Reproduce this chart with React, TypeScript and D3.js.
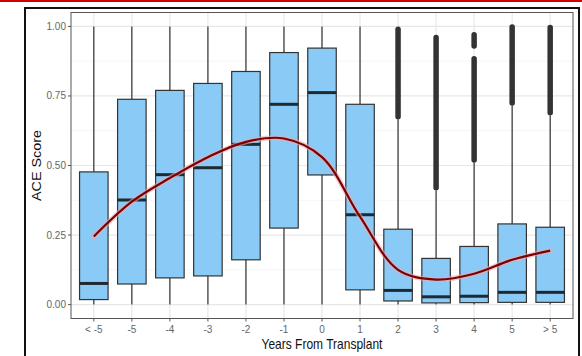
import * as d3 from "d3";

// ACE score by year relative to transplant
const categories = ["< -5", "-5", "-4", "-3", "-2", "-1", "0", "1", "2", "3", "4", "5", "> 5"];
const lowerWhisker = [0, 0, 0, 0, 0, 0, 0, 0, 0, 0, 0, 0, 0];
const q1 = [0.018, 0.074, 0.096, 0.103, 0.161, 0.275, 0.466, 0.053, 0.013, 0.006, 0.007, 0.008, 0.008];
const medians = [0.076, 0.376, 0.467, 0.492, 0.576, 0.72, 0.762, 0.323, 0.051, 0.028, 0.03, 0.044, 0.044];
const q3 = [0.477, 0.738, 0.77, 0.795, 0.838, 0.906, 0.922, 0.72, 0.271, 0.166, 0.209, 0.29, 0.278];
const upperWhisker = [1, 1, 1, 1, 1, 1, 1, 1, 0.665, 0.41, 0.51, 0.715, 0.68];
// outliers are so dense they read as runs of points: [from, to]
const outlierRuns: [number, number][][] = [
  [], [], [], [], [], [], [], [],
  [[0.675, 0.99]],
  [[0.42, 0.96]],
  [[0.52, 0.884], [0.93, 0.97]],
  [[0.725, 0.998]],
  [[0.69, 0.996]],
];
const smoothFit = [0.245, 0.37, 0.455, 0.53, 0.585, 0.597, 0.53, 0.316, 0.125, 0.09, 0.111, 0.161, 0.194];
const yTicks = [0, 0.25, 0.5, 0.75, 1];
const yMinor = [0.125, 0.375, 0.625, 0.875];

const W = 582;
const H = 356;
const panel = { left: 71, right: 573, top: 12.5, bottom: 318.5 };
const font = "'Liberation Sans', Arial, sans-serif";

export default function App() {
  const x = d3.scalePoint<string>().domain(categories).range([panel.left, panel.right]).padding(0.6);
  const y = d3.scaleLinear().domain([-0.05, 1.05]).range([panel.bottom, panel.top]);
  const boxW = x.step() * 0.75;

  const fitLine = d3
    .line<number>()
    .x((_, i) => x(categories[i]) as number)
    .y((d) => y(d))
    .curve(d3.curveCatmullRom.alpha(0.5));
  const fitPath = fitLine(smoothFit) || "";

  return (
    <svg width={W} height={H} style={{ position: "absolute", left: 0, top: 0, background: "#fff" }}>
      <rect x={0} y={0} width={W} height={2} fill="#d00000" />
      <rect x={25} y={8} width={554} height={H + 10} fill="#fff" stroke="#111" strokeWidth={2} />

      {/* grid */}
      {yMinor.map((t) => (
        <line key={"mn" + t} x1={panel.left} x2={panel.right} y1={y(t)} y2={y(t)} stroke="#f0f0f0" strokeWidth={0.7} />
      ))}
      {yTicks.map((t) => (
        <line key={"mj" + t} x1={panel.left} x2={panel.right} y1={y(t)} y2={y(t)} stroke="#e8e8e8" strokeWidth={1.2} />
      ))}
      {categories.map((c) => (
        <line key={"vg" + c} x1={x(c)} x2={x(c)} y1={panel.top} y2={panel.bottom} stroke="#e8e8e8" strokeWidth={1.2} />
      ))}

      {/* boxes */}
      {categories.map((c, i) => {
        const cx = x(c) as number;
        return (
          <g key={"box" + c}>
            <line x1={cx} x2={cx} y1={y(upperWhisker[i])} y2={y(q3[i])} stroke="#333" strokeWidth={1.2} />
            <line x1={cx} x2={cx} y1={y(q1[i])} y2={y(lowerWhisker[i])} stroke="#333" strokeWidth={1.2} />
            <rect
              x={cx - boxW / 2}
              y={y(q3[i])}
              width={boxW}
              height={y(q1[i]) - y(q3[i])}
              fill="#89cbf6"
              stroke="#333"
              strokeWidth={1.2}
            />
            <line x1={cx - boxW / 2} x2={cx + boxW / 2} y1={y(medians[i])} y2={y(medians[i])} stroke="#1f2a30" strokeWidth={3} />
            {outlierRuns[i].map(([lo, hi], k) => (
              <line
                key={k}
                x1={cx}
                x2={cx}
                y1={y(lo)}
                y2={y(hi)}
                stroke="#333"
                strokeWidth={5.5}
                strokeLinecap="round"
              />
            ))}
          </g>
        );
      })}

      {/* loess fit */}
      <path d={fitPath} fill="none" stroke="#f0a8b0" strokeOpacity={0.6} strokeWidth={5} strokeLinecap="round" />
      <path d={fitPath} fill="none" stroke="#7d0000" strokeWidth={2.2} />

      <rect
        x={panel.left}
        y={panel.top}
        width={panel.right - panel.left}
        height={panel.bottom - panel.top}
        fill="none"
        stroke="#555"
        strokeWidth={1}
      />

      {/* y axis */}
      {yTicks.map((t) => (
        <g key={"yt" + t}>
          <line x1={panel.left - 3} x2={panel.left} y1={y(t)} y2={y(t)} stroke="#555" />
          <text
            x={panel.left - 5}
            y={y(t)}
            dy="0.35em"
            textAnchor="end"
            fontFamily={font}
            fontSize={10}
            fill="#666"
          >
            {t.toFixed(2)}
          </text>
        </g>
      ))}

      {/* x axis */}
      {categories.map((c) => (
        <g key={"xt" + c}>
          <line x1={x(c)} x2={x(c)} y1={panel.bottom} y2={panel.bottom + 3} stroke="#555" />
          <text x={x(c)} y={panel.bottom + 14} textAnchor="middle" fontFamily={font} fontSize={10} fill="#666">
            {c}
          </text>
        </g>
      ))}

      <text
        transform={`translate(${(panel.left + panel.right) / 2},${349}) scale(1,1.2)`}
        textAnchor="middle"
        fontFamily={font}
        fontSize={12}
        fill="#111"
      >
        Years From Transplant
      </text>
      <text
        transform={`translate(41,${(panel.top + panel.bottom) / 2}) scale(1,1.2) rotate(-90)`}
        textAnchor="middle"
        fontFamily={font}
        fontSize={12}
        fill="#111"
      >
        ACE Score
      </text>
    </svg>
  );
}
